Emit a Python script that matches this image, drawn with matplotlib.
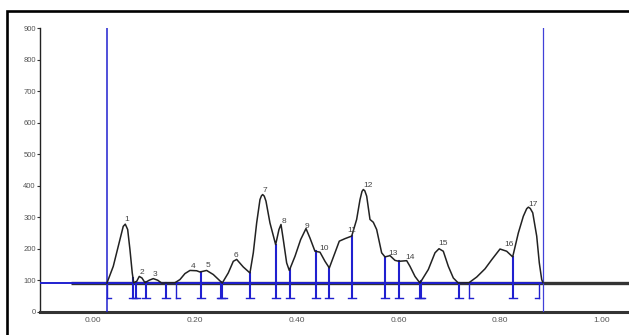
import numpy as np
import matplotlib
matplotlib.use("Agg")
import matplotlib.pyplot as plt
import matplotlib.patches as patches

plt.rcParams['font.family'] = ['Liberation Sans', 'DejaVu Sans']

# Traced densitometer curve (Rf, intensity)
curve_x = [0.0275, 0.0399, 0.0530, 0.0595, 0.0635, 0.0682, 0.0727, 0.0772, 0.0800,
           0.0858, 0.0910, 0.0963, 0.1022, 0.1106, 0.1185, 0.1271, 0.1349, 0.1611,
           0.1709, 0.1807, 0.1906, 0.2037, 0.2102, 0.2233, 0.2364, 0.2540,
           0.2658, 0.2757, 0.2823, 0.2953, 0.3084, 0.3150, 0.3216, 0.3281, 0.3310, 0.3334,
           0.3365, 0.3399, 0.3477, 0.3589, 0.3654, 0.3694, 0.3739, 0.3805, 0.3857,
           0.3969, 0.4080, 0.4185, 0.4263, 0.4361, 0.4460, 0.4558, 0.4643,
           0.4754, 0.4839, 0.4951, 0.5049, 0.5083, 0.5180, 0.5246, 0.5285, 0.5311, 0.5340,
           0.5377, 0.5442,
           0.5507, 0.5573, 0.5671, 0.5737, 0.5835, 0.5933, 0.6012, 0.6163,
           0.6228, 0.6326, 0.6424, 0.6588, 0.6719, 0.6798, 0.6882, 0.6981, 0.7079,
           0.7177, 0.7387, 0.7538, 0.7701, 0.7833, 0.7996, 0.8127, 0.8245,
           0.8356, 0.8454, 0.8520, 0.8553, 0.8590, 0.8639, 0.8717, 0.8768, 0.8815, 0.8841]
curve_y = [91, 144, 229, 271, 278, 261, 197, 123, 92,
           96, 112, 107, 92, 100, 105, 100, 91, 92,
           102, 121, 131, 130, 126, 131, 118, 91,
           123, 160, 166, 142, 123, 187, 282, 356, 368, 372,
           367, 351, 282, 213, 261, 277, 229, 155, 131,
           176, 229, 264, 234, 192, 189, 160, 139,
           187, 224, 232, 238, 240, 293, 356, 382, 388, 384,
           367, 293,
           284, 261, 187, 174, 178, 163, 160, 162,
           144, 112, 91, 134, 187, 200, 192, 144, 107,
           91, 92, 110, 136, 165, 199, 192, 174,
           250, 303, 327, 332, 328, 314, 240, 155, 102, 92]

baseline = 90
start_rf = 0.0275
end_rf = 0.8841

# Peak boundaries (drop lines)
bounds = [0.0786, 0.0845, 0.1041, 0.1434, 0.2122, 0.2515, 0.2544, 0.3084,
          0.3589, 0.3870, 0.4381, 0.4642, 0.5083, 0.5737, 0.6018, 0.6415,
          0.6444, 0.7191, 0.8245]
start_marks = [0.0275, 0.1631, 0.7387]
end_marks = [0.8768]

peak_names = [str(i) for i in range(1, 18)]
peak_x = [0.0668, 0.0963, 0.1218, 0.1965, 0.2259, 0.2809, 0.3379, 0.3752, 0.4204,
          0.4538, 0.5088, 0.5403, 0.5894, 0.6228, 0.6876, 0.8173, 0.8644]
peak_y = [294, 126, 117, 145, 148, 177, 386, 285, 272,
          202, 258, 402, 186, 171, 215, 212, 342]

xticks = [0.0, 0.2, 0.4, 0.6, 0.8, 1.0]
yticks = list(range(0, 1000, 100))

blue = '#2020d0'
mark_y = 45
tick_w = 0.008

fig = plt.figure(figsize=(6.29, 3.35), dpi=100)
ax = fig.add_axes([0.0636, 0.0696, 0.9364, 0.8459])
ax.set_xlim(-0.104, 1.053)
ax.set_ylim(0, 900)

# baseline
ax.plot([-0.043, 1.053], [baseline, baseline], color='#333333', lw=2.4, solid_capstyle='butt', zorder=2)
ax.plot([-0.104, end_rf], [baseline, baseline], color=blue, lw=1.4, zorder=3)

# start / end lines
ax.plot([start_rf, start_rf], [0, 900], color=blue, lw=1.1, zorder=3)
ax.plot([end_rf, end_rf], [0, 900], color='#4040d8', lw=0.9, zorder=3)

# curve
ax.plot(curve_x, curve_y, color='#222222', lw=1.1, zorder=4)

# drop lines
for b in bounds:
    top = np.interp(b, curve_x, curve_y)
    ax.plot([b, b], [mark_y, top], color=blue, lw=1.5, zorder=3)
    ax.plot([b - tick_w, b + tick_w], [mark_y, mark_y], color=blue, lw=1.0, zorder=3)
for b in start_marks:
    ax.plot([b, b], [mark_y, baseline], color=blue, lw=1.0, zorder=3)
    ax.plot([b, b + tick_w], [mark_y, mark_y], color=blue, lw=1.0, zorder=3)
for b in end_marks:
    ax.plot([b, b], [mark_y, baseline], color=blue, lw=1.0, zorder=3)
    ax.plot([b - tick_w, b], [mark_y, mark_y], color=blue, lw=1.0, zorder=3)

# peak numbers
for name, px, py in zip(peak_names, peak_x, peak_y):
    ax.text(px, py, name, fontsize=6, color='#444444', ha='center', va='center', zorder=5)

ax.spines['top'].set_visible(False)
ax.spines['right'].set_visible(False)
ax.spines['left'].set_color('#222222')
ax.spines['left'].set_linewidth(1.0)
ax.spines['bottom'].set_color('#333333')
ax.spines['bottom'].set_linewidth(2.2)

ax.set_yticks(yticks)
ax.set_yticklabels([str(v) for v in yticks])
ax.set_xticks(xticks)
ax.set_xticklabels([f"{v:.2f}" for v in xticks])
ax.tick_params(axis='y', length=2, width=0.8, pad=1, labelsize=5.5, labelcolor='#555555', color='#333333')
ax.tick_params(axis='x', length=0, pad=4, labelsize=6, labelcolor='#555555')

# outer frame
frame = patches.Rectangle((0.0119, -0.1), 1.1, 1.0657, transform=fig.transFigure,
                          fill=False, edgecolor='black', lw=1.9, clip_on=False)
fig.patches.append(frame)

fig.savefig('out.png', dpi=100, facecolor='white')
